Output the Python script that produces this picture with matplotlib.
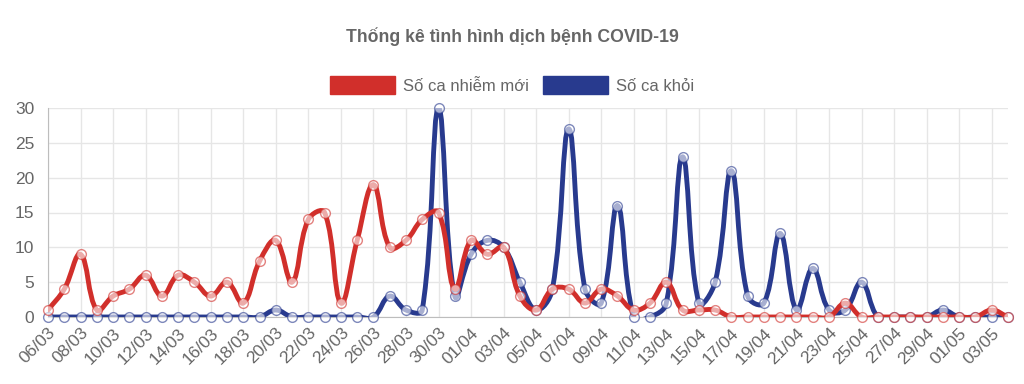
import numpy as np
import matplotlib
matplotlib.use("Agg")
import matplotlib.pyplot as plt
from matplotlib.path import Path
from matplotlib.patches import PathPatch, Patch

plt.rcParams["font.family"] = ["Liberation Sans", "DejaVu Sans"]

# dates 06/03 .. 04/05
dates = ([f"{d:02d}/03" for d in range(6, 32)]
         + [f"{d:02d}/04" for d in range(1, 31)]
         + [f"{d:02d}/05" for d in range(1, 5)])

new_cases = [1, 4, 9, 1, 3, 4, 6, 3, 6, 5, 3, 5, 2, 8, 11, 5, 14, 15, 2, 11,
             19, 10, 11, 14, 15, 4,
             11, 9, 10, 3, 1, 4, 4, 2, 4, 3, 1, 2, 5, 1, 1, 1, 0, 0, 0, 0,
             0, 0, 0, 2, 0, 0, 0, 0, 0, 0,
             0, 0, 1, 0]

recovered = [0, 0, 0, 0, 0, 0, 0, 0, 0, 0, 0, 0, 0, 0, 1, 0, 0, 0, 0, 0,
             0, 3, 1, 1, 30, 3,
             9, 11, 10, 5, 1, 4, 27, 4, 2, 16, 0, 0, 2, 23, 2, 5, 21, 3, 2, 12,
             1, 7, 1, 1, 5, 0, 0, 0, 0, 1,
             0, 0, 0, 0]

labels = ["Số ca nhiễm mới", "Số ca khỏi"]
colors = ["#d12f2b", "#283a8e"]

# pixel scale used for Chart.js-like spline tension
PX_X, PX_Y = 16.27, 6.97


def spline_path(xs, ys, tension=0.4):
    px = np.asarray(xs, float) * PX_X
    py = np.asarray(ys, float) * PX_Y
    n = len(px)
    cin, cout = [], []
    for i in range(n):
        p0 = (px[max(i - 1, 0)], py[max(i - 1, 0)])
        p1 = (px[i], py[i])
        p2 = (px[min(i + 1, n - 1)], py[min(i + 1, n - 1)])
        d01 = np.hypot(p1[0] - p0[0], p1[1] - p0[1])
        d12 = np.hypot(p2[0] - p1[0], p2[1] - p1[1])
        tot = d01 + d12
        s01 = d01 / tot if tot else 0
        s12 = d12 / tot if tot else 0
        fa, fb = tension * s01, tension * s12
        cin.append((p1[0] - fa * (p2[0] - p0[0]), p1[1] - fa * (p2[1] - p0[1])))
        cout.append((p1[0] + fb * (p2[0] - p0[0]), p1[1] + fb * (p2[1] - p0[1])))
    verts = [(px[0], py[0])]
    codes = [Path.MOVETO]
    for i in range(1, n):
        verts += [cout[i - 1], cin[i], (px[i], py[i])]
        codes += [Path.CURVE4] * 3
    verts = [(vx / PX_X, vy / PX_Y) for vx, vy in verts]
    return Path(verts, codes)


fig = plt.figure(figsize=(10.24, 3.84), dpi=100)
ax = fig.add_axes([48 / 1024, 1 - 317 / 384, 960 / 1024, 209 / 384])

x = np.arange(len(dates))
series = [new_cases, recovered]
for k in [1, 0]:
    ys = series[k]
    patch = PathPatch(spline_path(x, ys), facecolor="none", edgecolor=colors[k],
                      lw=3.5, zorder=3 + 2 * (1 - k), capstyle="round", joinstyle="round")
    ax.add_patch(patch)
    ax.plot(x, ys, ls="none", marker="o", ms=7, mfc=(1, 1, 1, 0.2),
            mec=colors[k], mew=1.0, alpha=0.6, zorder=4 + 2 * (1 - k), clip_on=False)

ax.set_xlim(0, len(dates) - 1)
ax.set_ylim(0, 30)
ax.set_yticks(range(0, 31, 5))
ax.set_xticks(x[::2])
ax.set_xticklabels(dates[::2], rotation=45, ha="right", rotation_mode="anchor")
ax.tick_params(axis="both", colors="#666666", labelsize=12.5, length=0)
ax.tick_params(axis="x", pad=6)
ax.tick_params(axis="y", pad=10)
ax.grid(True, color="#e6e6e6", lw=1)
ax.set_axisbelow(True)
for s in ["top", "right"]:
    ax.spines[s].set_visible(False)
ax.spines["left"].set_color("#bdbdbd")
ax.spines["bottom"].set_color("#bdbdbd")

fig.text(0.5, 1 - 37 / 384, "Thống kê tình hình dịch bệnh COVID-19", ha="center",
         va="center", fontsize=12.7, fontweight="bold", color="#666666")

handles = [Patch(facecolor=c, edgecolor=c) for c in colors]
fig.legend(handles, labels, loc="center", bbox_to_anchor=(0.5, 1 - 85 / 384), ncol=2,
           frameon=False, fontsize=12, handlelength=3.9, handleheight=1.3,
           columnspacing=0.8, handletextpad=0.5, labelcolor="#666666")

fig.savefig("out.png", dpi=100)
